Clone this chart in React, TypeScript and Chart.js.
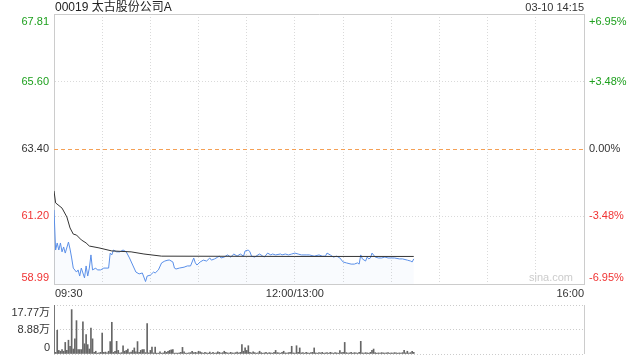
import React, { useEffect, useRef } from "react";
import { Chart, registerables } from "chart.js";

Chart.register(...registerables);

const FONT = "'Liberation Sans', Arial, 'Noto Sans CJK SC', sans-serif";
const GREEN = "#1ea01e";
const RED = "#f03333";
const TEXT = "#333333";
const ORANGE = "#f5a055";

const TITLE = "00019 太古股份公司A";
const STAMP = "03-10 14:15";
const WATERMARK = "sina.com";
const PREV_CLOSE = 63.4;

// y-axis ticks (price) and matching percent labels
const PRICE_TICKS = [58.99, 61.2, 63.4, 65.6, 67.81];
const PCT_LABELS = ["-6.95%", "-3.48%", "0.00%", "+3.48%", "+6.95%"];

// x-axis: minutes of trading since 09:30 (lunch break removed)
const X_GRID = [0, 30, 60, 90, 120, 150, 180, 210, 240, 270, 300, 330];
const TIME_TICKS = [0, 150, 330];
const TIME_TEXT = ["09:30", "12:00/13:00", "16:00"];

// price series (minute, price)
const PRICE_MIN = [
  0, 1, 2, 3, 4, 5, 6, 7, 9, 10,
  11, 12, 14, 15, 16, 17, 19, 20, 21, 22,
  23, 24, 26, 27, 29, 31, 34, 35, 36, 37,
  39, 41, 43, 45, 47, 49, 51, 53, 55, 57,
  58, 60, 62, 63, 65, 67, 69, 71, 72, 74,
  75, 76, 78, 81, 83, 85, 87, 88, 89, 91,
  93, 95, 97, 98, 100, 102, 103, 104, 106, 108,
  110, 112, 114, 116, 118, 119, 121, 122, 123, 125,
  127, 128, 130, 131, 133, 135, 136, 138, 141, 142,
  144, 146, 148, 150, 152, 154, 157, 159, 162, 165,
  167, 169, 170, 172, 174, 176, 178, 180, 182, 185,
  187, 189, 190, 191, 192, 194, 195, 196, 197, 198,
  200, 202, 204, 206, 208, 210, 212, 215, 217, 220,
  222, 223, 224,
];
const PRICE_VAL = [
  61.41, 60.1, 60.33, 60.1, 60.33, 60.04, 60.2, 60.0, 60.36, 60.13,
  59.84, 59.51, 59.38, 59.45, 59.25, 59.51, 59.19, 59.58, 59.25, 59.51,
  59.94, 59.45, 59.51, 59.45, 59.45, 59.51, 59.51, 60.0, 59.94, 60.1,
  60.04, 60.04, 60.1, 60.04, 59.84, 59.61, 59.38, 59.32, 59.35, 59.07,
  59.25, 59.28, 59.38, 59.35, 59.45, 59.68, 59.74, 59.77, 59.77, 59.71,
  59.51, 59.48, 59.51, 59.54, 59.58, 59.58, 59.84, 59.68, 59.61, 59.71,
  59.77, 59.74, 59.84, 59.77, 59.81, 59.87, 59.9, 59.84, 59.87, 59.94,
  59.87, 59.97, 59.9, 59.97, 59.9, 60.07, 60.1, 60.04, 59.9, 59.87,
  59.94, 59.97, 59.9, 59.87, 60.0, 59.94, 59.97, 59.94, 59.97, 59.94,
  59.97, 59.94, 59.97, 60.0, 59.97, 59.94, 59.94, 59.94, 59.9, 59.94,
  59.9, 59.9, 60.0, 59.94, 59.87, 59.9, 59.84, 59.71, 59.68, 59.64,
  59.64, 59.68, 59.64, 59.94, 59.81, 59.74, 59.87, 59.81, 59.84, 60.0,
  59.87, 59.84, 59.84, 59.87, 59.84, 59.84, 59.84, 59.81, 59.81, 59.77,
  59.74, 59.71, 59.81,
];

// average price line (minute, price)
const AVG_MIN = [0, 1, 5, 8, 10, 12, 14, 17, 20, 22, 28, 36, 48, 56, 67, 150, 224];
const AVG_VAL = [62.03, 61.64, 61.47, 61.18, 60.82, 60.62, 60.59, 60.43, 60.33, 60.23, 60.17, 60.07, 60.04, 59.97, 59.9, 59.89, 59.89];

// volume per minute (万)
const VOLUME = [
  17.77, 0.6, 8.6, 1.3, 1.0, 1.6, 1.0, 4.2, 1.3, 5.0,
  2.8, 16.1, 1.8, 5.5, 12.1, 1.6, 1.6, 1.6, 11.7, 3.7,
  7.0, 3.4, 1.8, 9.4, 5.5, 0.6, 1.0, 0.3, 0.4, 0.6,
  7.6, 0.6, 0.7, 0.4, 1.0, 4.5, 11.5, 0.6, 1.0, 4.6,
  1.3, 0.3, 0.5, 3.0, 1.0, 1.3, 1.8, 0.5, 0.7, 1.3,
  2.2, 0.8, 4.5, 0.6, 1.3, 1.6, 1.6, 0.5, 11.0, 0.4,
  1.3, 2.5, 0.4, 2.5, 0.3, 0.3, 0.8, 0.3, 0.4, 1.0,
  0.6, 1.0, 1.3, 1.5, 1.6, 0.3, 0.3, 0.3, 0.4, 0.6,
  2.4, 0.8, 0.3, 0.3, 0.4, 0.5, 1.0, 0.5, 0.6, 0.4,
  1.0, 0.8, 0.5, 0.3, 0.6, 0.4, 0.3, 0.7, 0.3, 0.6,
  0.3, 0.4, 0.8, 0.6, 0.3, 0.5, 1.0, 0.6, 0.4, 0.3,
  0.6, 0.4, 0.3, 0.5, 0.7, 0.4, 0.6, 3.4, 1.0, 2.2,
  1.3, 3.0, 0.6, 0.4, 0.8, 0.5, 0.3, 0.4, 1.0, 0.5,
  0.3, 0.4, 0.6, 0.3, 0.5, 0.4, 0.3, 0.6, 1.3, 0.5,
  0.4, 0.3, 0.6, 1.0, 0.4, 0.3, 0.5, 0.6, 2.8, 0.4,
  0.3, 3.0, 0.6, 2.2, 0.4, 0.5, 0.3, 0.6, 0.4, 0.3,
  0.5, 0.6, 2.2, 0.4, 0.3, 0.5, 0.4, 0.6, 0.3, 0.4,
  0.5, 0.3, 0.6, 0.4, 0.3, 0.5, 0.4, 0.3, 1.2, 0.5,
  0.6, 4.2, 0.5, 0.3, 0.4, 0.6, 0.3, 0.5, 0.4, 0.3,
  0.6, 4.6, 0.4, 0.3, 0.5, 0.4, 0.3, 0.6, 1.3, 1.8,
  0.5, 0.3, 0.4, 0.3, 0.5, 0.4, 0.3, 0.4, 0.5, 0.3,
  0.4, 0.3, 0.5, 0.4, 0.3, 0.4, 0.3, 0.5, 1.3, 0.4,
  1.0, 0.3, 0.5, 1.0, 0.6,
];
const VOL_TICKS = [0, 8.885, 17.77];
const VOL_LABELS = ["0", "8.88万", "17.77万"];

const isPrev = (v: number) => Math.abs(v - PREV_CLOSE) < 0.001;

const prevCloseLine = {
  id: "prevCloseLine",
  beforeDatasetsDraw(chart: any) {
    const { ctx, chartArea: a, scales } = chart;
    const py = Math.round(scales.y.getPixelForValue(PREV_CLOSE)) + 0.5;
    ctx.save();
    ctx.strokeStyle = ORANGE;
    ctx.lineWidth = 1;
    ctx.setLineDash([4, 3]);
    ctx.beginPath();
    ctx.moveTo(a.left, py);
    ctx.lineTo(a.right, py);
    ctx.stroke();
    ctx.restore();
  },
};

const mainLabels = {
  id: "mainLabels",
  afterDraw(chart: any) {
    const { ctx, chartArea: a, scales } = chart;
    const y = scales.y;
    const x = scales.x;
    ctx.save();
    ctx.font = `11px ${FONT}`;
    const last = PRICE_TICKS.length - 1;
    PRICE_TICKS.forEach((v, i) => {
      const py = y.getPixelForValue(v);
      let yy = py;
      ctx.textBaseline = "middle";
      if (i === 0) {
        ctx.textBaseline = "bottom";
        yy = py - 1;
      } else if (i === last) {
        ctx.textBaseline = "top";
        yy = py + 2;
      }
      ctx.fillStyle = isPrev(v) ? TEXT : v > PREV_CLOSE ? GREEN : RED;
      ctx.textAlign = "right";
      ctx.fillText(v.toFixed(2), a.left - 5, yy);
      ctx.textAlign = "left";
      ctx.fillText(PCT_LABELS[i], a.right + 5, yy);
    });
    ctx.fillStyle = TEXT;
    ctx.textBaseline = "top";
    TIME_TICKS.forEach((m, i) => {
      ctx.textAlign = i === 0 ? "left" : i === TIME_TICKS.length - 1 ? "right" : "center";
      ctx.fillText(TIME_TEXT[i], x.getPixelForValue(m) + (i === 0 ? 1 : 0), a.bottom + 4);
    });
    ctx.textBaseline = "middle";
    ctx.textAlign = "right";
    ctx.fillText(STAMP, a.right, 8);
    ctx.fillStyle = "#cccccc";
    ctx.fillText(WATERMARK, a.right - 11, a.bottom - 6);
    ctx.font = `12px ${FONT}`;
    ctx.fillStyle = "#222222";
    ctx.textAlign = "left";
    ctx.fillText(TITLE, a.left + 1, 8);
    ctx.restore();
  },
};

const volLabels = {
  id: "volLabels",
  afterDraw(chart: any) {
    const { ctx, chartArea: a, scales } = chart;
    const y = scales.y;
    ctx.save();
    ctx.font = `11px ${FONT}`;
    ctx.fillStyle = TEXT;
    ctx.textAlign = "right";
    const last = VOL_TICKS.length - 1;
    VOL_TICKS.forEach((v, i) => {
      const py = y.getPixelForValue(v);
      let yy = py;
      ctx.textBaseline = "middle";
      if (i === 0) {
        ctx.textBaseline = "bottom";
        yy = py - 1;
      } else if (i === last) {
        ctx.textBaseline = "top";
        yy = py + 2;
      }
      ctx.fillText(VOL_LABELS[i], a.left - 4, yy);
    });
    ctx.restore();
  },
};

export default function App() {
  const mainRef = useRef<HTMLCanvasElement>(null);
  const volRef = useRef<HTMLCanvasElement>(null);

  useEffect(() => {
    const main = new Chart(mainRef.current as HTMLCanvasElement, {
      type: "line",
      data: {
        datasets: [
          {
            data: AVG_MIN.map((m, i) => ({ x: m, y: AVG_VAL[i] })),
            borderColor: "#333333",
            borderWidth: 1,
            pointRadius: 0,
            fill: false,
            tension: 0,
          },
          {
            data: PRICE_MIN.map((m, i) => ({ x: m, y: PRICE_VAL[i] })),
            borderColor: "#5a8fe8",
            borderWidth: 1,
            pointRadius: 0,
            fill: "start",
            backgroundColor: "rgba(90,143,232,0.035)",
            tension: 0,
          },
        ],
      },
      options: {
        responsive: false,
        animation: false,
        events: [],
        layout: { padding: { left: 54, right: 56, top: 14, bottom: 16 } },
        plugins: { legend: { display: false }, tooltip: { enabled: false } },
        scales: {
          x: {
            type: "linear",
            min: 0,
            max: 330,
            afterBuildTicks: (s: any) => {
              s.ticks = X_GRID.map((v) => ({ value: v }));
            },
            ticks: { display: false },
            grid: {
              drawTicks: false,
              color: (c: any) =>
                c.tick && (c.tick.value === 0 || c.tick.value === 330) ? "#cccccc" : "#dadada",
            },
            border: {
              display: true,
              color: "#cccccc",
              dash: (c: any) =>
                c.tick && c.tick.value > 0 && c.tick.value < 330 ? [1, 2] : [],
            },
          },
          y: {
            type: "linear",
            min: 58.99,
            max: 67.81,
            afterBuildTicks: (s: any) => {
              s.ticks = PRICE_TICKS.map((v) => ({ value: v }));
            },
            ticks: { display: false },
            grid: {
              drawTicks: false,
              color: (c: any) => {
                if (!c.tick) return "#dadada";
                const v = c.tick.value;
                if (isPrev(v)) return "rgba(0,0,0,0)";
                if (v === 58.99 || v === 67.81) return "#cccccc";
                return "#dadada";
              },
            },
            border: {
              display: true,
              color: "#cccccc",
              dash: (c: any) => {
                if (!c.tick) return [];
                const v = c.tick.value;
                if (v === 58.99 || v === 67.81) return [];
                return [1, 2];
              },
            },
          },
        },
      },
      plugins: [prevCloseLine, mainLabels],
    } as any);

    const vol = new Chart(volRef.current as HTMLCanvasElement, {
      type: "bar",
      data: {
        datasets: [
          {
            data: VOLUME.map((v, i) => ({ x: i, y: v })),
            backgroundColor: "#666666",
            barThickness: 1,
            categoryPercentage: 1,
            barPercentage: 1,
          },
        ],
      },
      options: {
        responsive: false,
        animation: false,
        events: [],
        layout: { padding: { left: 54, right: 56, top: 7, bottom: 6 } },
        plugins: { legend: { display: false }, tooltip: { enabled: false } },
        scales: {
          x: {
            type: "linear",
            min: 0,
            max: 330,
            offset: false,
            afterBuildTicks: (s: any) => {
              s.ticks = [0, 330].map((v) => ({ value: v }));
            },
            ticks: { display: false },
            grid: { drawTicks: false, offset: false, color: "#cccccc" },
            border: { display: false },
          },
          y: {
            type: "linear",
            min: 0,
            max: 17.77,
            afterBuildTicks: (s: any) => {
              s.ticks = VOL_TICKS.map((v) => ({ value: v }));
            },
            ticks: { display: false },
            grid: { drawTicks: false, color: "#cccccc" },
            border: { display: false, dash: [1, 2] },
          },
        },
      },
      plugins: [volLabels],
    } as any);

    return () => {
      main.destroy();
      vol.destroy();
    };
  }, []);

  return (
    <div style={{ position: "fixed", left: 0, top: 0, width: 640, height: 360, background: "#ffffff" }}>
      <canvas ref={mainRef} width={640} height={300} style={{ position: "absolute", left: 0, top: 0 }} />
      <canvas ref={volRef} width={640} height={62} style={{ position: "absolute", left: 0, top: 298 }} />
    </div>
  );
}
